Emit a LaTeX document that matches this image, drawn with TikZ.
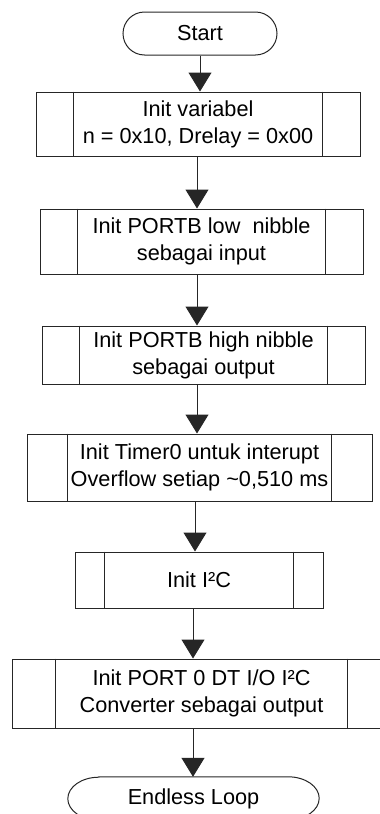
\documentclass[tikz,border=0pt]{standalone}
\usepackage{fontspec}
\setmainfont{Liberation Sans}
\usetikzlibrary{arrows.meta, shapes.misc}

\tikzset{
  txt/.style={font=\fontsize{21.7}{27}\selectfont, align=center, inner sep=0pt},
  flow/.style={draw=black!85, line width=1pt, -{Triangle[width=23pt,length=19pt]}},
  subproc/.style={txt, draw=black!85, line width=1pt, rectangle},
  term/.style={txt, draw=black!85, line width=1pt, rounded rectangle}
}

\begin{document}
\begin{tikzpicture}[x=1pt, y=-1pt]
    \useasboundingbox (0,0) rectangle (380,814);

    \node[term, minimum width=154pt, minimum height=43pt] (start) at (200,33.5) {Start};

    \node[subproc, minimum width=324pt, minimum height=64pt] (b1) at (198,124)
      {Init variabel\\n = 0x10, Drelay = 0x00};
    \node[subproc, minimum width=323pt, minimum height=65pt] (b2) at (201.5,241.5)
      {Init PORTB low\ \ nibble\\sebagai input};
    \node[subproc, minimum width=323pt, minimum height=58pt] (b3) at (203.5,355)
      {Init PORTB high nibble\\sebagai output};
    \node[subproc, minimum width=345pt, minimum height=67pt] (b4) at (199.5,467.5)
      {Init Timer0 untuk interupt\\Overflow setiap \textasciitilde0,510 ms};
    \node[subproc, minimum width=248pt, minimum height=56pt] (b5) at (199,580)
      {Init I²C};
    \node[subproc, minimum width=379pt, minimum height=69pt] (b6) at (201.5,693.5)
      {Init PORT 0 DT I/O I²C\\Converter sebagai output};

    % side bars of the subprocess boxes
    \foreach \n/\s in {b1/38, b2/38, b3/38, b4/41, b5/30, b6/44} {
      \draw[draw=black!85, line width=1pt] ([xshift=\s pt]\n.north west) -- ([xshift=\s pt]\n.south west);
      \draw[draw=black!85, line width=1pt] ([xshift=-\s pt]\n.north east) -- ([xshift=-\s pt]\n.south east);
    }

    % end terminal with oval ends
    \node[txt, minimum width=251pt, minimum height=43pt] (loop) at (193.5,798.5) {Endless Loop};
    \draw[draw=black!85, line width=1pt] ([xshift=31pt]loop.north west) -- ([xshift=-31pt]loop.north east)
      arc[start angle=90, end angle=-90, x radius=31pt, y radius=21.5pt]
      -- ([xshift=31pt]loop.south west)
      arc[start angle=270, end angle=90, x radius=31pt, y radius=21.5pt] -- cycle;

    \draw[flow] (start.south -| 200,0) -- (b1.north -| 200,0);
    \draw[flow] (b1.south -| 197,0) -- (b2.north -| 197,0);
    \draw[flow] (b2.south -| 197,0) -- (b3.north -| 197,0);
    \draw[flow] (b3.south -| 197,0) -- (b4.north -| 197,0);
    \draw[flow] (b4.south -| 195,0) -- (b5.north -| 195,0);
    \draw[flow] (b5.south -| 193,0) -- (b6.north -| 193,0);
    \draw[flow] (b6.south -| 193,0) -- (loop.north -| 193,0);
\end{tikzpicture}
\end{document}
